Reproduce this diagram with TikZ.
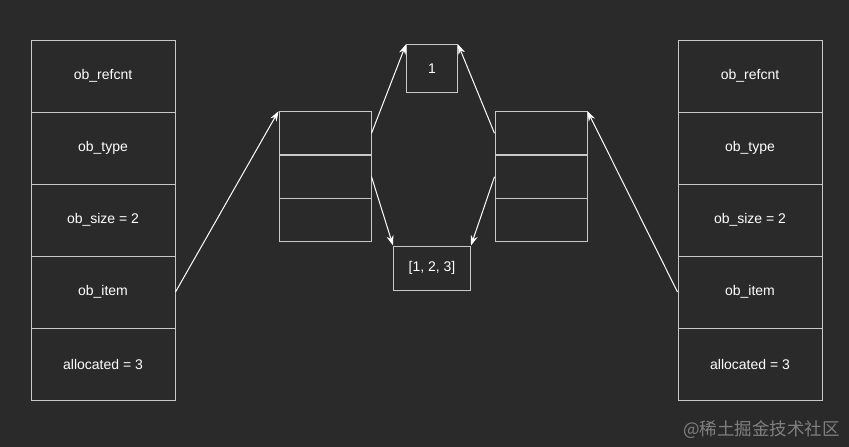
\documentclass[tikz,border=0pt]{standalone}
\usepackage{fontspec}
\setmainfont{Liberation Sans}
\newfontfamily\cjk{Noto Sans CJK SC}
\usetikzlibrary{arrows.meta}
\definecolor{bg}{HTML}{2A2A2A}
\definecolor{edgec}{HTML}{C8C8C8}
\definecolor{wmark}{HTML}{808080}
\begin{document}
\begin{tikzpicture}[x=1pt,y=-1pt,
  cell/.style={draw=edgec, line width=1pt, minimum width=144pt, minimum height=72pt, inner sep=0pt, text=white, font=\fontsize{14}{16}\selectfont},
  scell/.style={draw=edgec, line width=1pt, minimum width=92pt, minimum height=43.3pt, inner sep=0pt},
  vbox/.style={draw=edgec, line width=1pt, inner sep=0pt, text=white, font=\fontsize{14}{16}\selectfont},
  arr/.style={draw=white, line width=1pt, -{Stealth[length=10pt,width=7pt]}}]
\fill[bg] (0,0) rectangle (849,447);
\useasboundingbox (0,0) rectangle (849,447);
% left column
\node[cell] (l1) at (103,76) {ob\_refcnt};
\node[cell] (l2) at (103,148) {ob\_type};
\node[cell] (l3) at (103,220) {ob\_size = 2};
\node[cell] (l4) at (103,292) {ob\_item};
\node[cell] (l5) at (103,364) {allocated = 3};
% right column
\node[cell] (r1) at (750,76) {ob\_refcnt};
\node[cell] (r2) at (750,148) {ob\_type};
\node[cell] (r3) at (750,220) {ob\_size = 2};
\node[cell] (r4) at (750,292) {ob\_item};
\node[cell] (r5) at (750,364) {allocated = 3};
% stacks
\node[scell] (s1) at (325,133.3) {};
\node[scell] (s2) at (325,176.7) {};
\node[scell] (s3) at (325,220) {};
\node[scell] (t1) at (541,133.3) {};
\node[scell] (t2) at (541,176.7) {};
\node[scell] (t3) at (541,220) {};
% value boxes
\node[vbox, minimum width=51pt, minimum height=47.5pt] (one) at (432,68.5) {1};
\node[vbox, minimum width=77pt, minimum height=44pt] (lst) at (432,268) {[1, 2, 3]};
% arrows
\draw[arr] (l4.east) -- (s1.north west);
\draw[arr] (r4.west) -- (t1.north east);
\draw[arr] (s1.east) -- (one.north west);
\draw[arr] (s2.east) -- (lst.north west);
\draw[arr] (t1.west) -- (one.north east);
\draw[arr] (t2.west) -- (lst.north east);
% watermark
\node[anchor=east, inner sep=0pt, text=wmark, font=\cjk\fontsize{17.5}{20}\selectfont] (wm) at (840,430) {@稀土掘金技术社区};
\end{tikzpicture}
\end{document}
